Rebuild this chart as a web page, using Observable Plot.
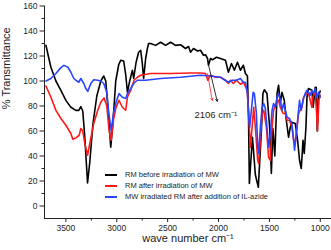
<!DOCTYPE html>
<html><head><meta charset="utf-8">
<script src="https://cdn.jsdelivr.net/npm/d3@7"></script>
<script src="https://cdn.jsdelivr.net/npm/@observablehq/plot@0.6"></script>
<style>
body{margin:0;background:#fff;}
#wrap{position:relative;width:331px;height:250px;font-family:"Liberation Sans",Arial,sans-serif;}
.leg{position:absolute;left:105px;height:10px;font-size:7.5px;color:#222;display:flex;align-items:center;white-space:nowrap;}
.leg i{display:inline-block;width:12px;height:0;border-top:2px solid;margin-right:8px;}
</style></head><body><div id="wrap"></div>
<script>
// wavenumber (cm-1), % transmittance
const black = [[3696,128.6],[3667,118],[3647,111],[3598,100],[3549,92.5],[3500,84.5],[3451,79],[3402,76.5],[3373,76.5],[3353,79.5],[3334,76],[3314,55],[3287,18.4],[3265,35],[3235,65],[3196,88],[3157,100],[3128,104],[3108,100],[3088,80],[3059,47],[3039,65],[3010,100],[2981,113],[2961,116.6],[2932,116],[2912,105],[2895,91],[2873,100],[2846,108.6],[2834,102],[2810,115],[2785,123],[2765,124.6],[2750,115],[2736,102],[2716,118],[2699,126],[2687,130],[2667,130],[2618,128.5],[2569,131],[2520,128.5],[2471,131],[2422,128.5],[2373,129],[2324,126],[2295,127.6],[2275,123],[2246,126],[2206,124],[2177,124.6],[2148,120.6],[2128,121],[2108,118],[2099,112.6],[2079,118],[2059,117],[2020,119],[1981,118],[1932,116.6],[1903,107],[1873,114],[1844,108.6],[1814,115],[1785,108.6],[1756,112.6],[1736,106],[1716,104],[1706,75],[1697,18],[1667,55],[1638,25],[1609,15],[1579,60],[1564,90],[1550,93],[1524,90],[1498,63],[1481,26],[1466,62],[1447,40],[1425,90],[1410,96.6],[1393,82],[1377,91],[1354,84.6],[1334,68.6],[1312,55],[1295,63],[1279,67],[1246,66],[1223,52.6],[1204,36.6],[1187,30],[1170,52.6],[1158,42],[1141,63],[1131,87],[1116,94],[1083,92.6],[1070,79],[1050,95],[1040,95],[1030,60],[1017,88],[1001,92]];
const red = [[3696,96],[3647,87],[3598,76.5],[3549,70],[3500,64.6],[3451,58],[3432,53.4],[3402,54.5],[3369,56.6],[3353,62],[3334,60],[3314,50],[3287,40.6],[3265,50],[3226,66],[3189,76],[3157,83],[3125,86.5],[3098,80],[3075,60],[3055,52.6],[3030,70],[3010,78],[2978,84.6],[2945,79],[2912,76.6],[2895,87],[2880,90],[2863,92.6],[2830,100.6],[2797,103],[2765,104.6],[2667,106],[2471,106],[2275,106.4],[2177,106.4],[2128,106],[2105,100.6],[2079,104.6],[2030,103],[1981,103],[1932,100.6],[1903,98],[1883,100.6],[1854,98],[1824,100.6],[1785,97.4],[1756,99],[1726,94],[1716,90],[1704,74],[1687,47],[1670,63],[1654,79],[1638,63],[1615,36.6],[1606,34],[1589,52.6],[1572,74],[1556,76.6],[1530,63],[1508,39],[1491,36.6],[1474,63],[1459,76.6],[1432,82],[1410,84.6],[1393,79],[1366,74],[1344,74],[1327,68.6],[1302,68.6],[1279,63],[1262,52.6],[1246,50],[1229,63],[1213,74],[1197,76.6],[1180,79],[1164,87],[1138,90],[1116,90],[1099,84.6],[1083,79],[1073,87],[1050,92.6],[1040,79],[1027,60],[1014,84.6],[1001,88.6]];
const blue = [[3696,100],[3647,102],[3598,106],[3549,110.7],[3520,112.5],[3480,111],[3451,107],[3422,102],[3402,100.6],[3373,99],[3353,102],[3324,98],[3304,94],[3285,91.7],[3255,98],[3226,101],[3187,100.6],[3157,100],[3128,98],[3098,91],[3079,75],[3055,60.6],[3030,75],[3010,82],[2978,90],[2945,87],[2912,86],[2895,90],[2863,94],[2830,98.4],[2797,100.6],[2716,100.6],[2569,102],[2373,103],[2177,104.6],[2079,104],[1981,103],[1903,99],[1864,100.6],[1824,100.6],[1785,102],[1756,99],[1736,99],[1716,90],[1704,71],[1694,63],[1677,76.6],[1660,91],[1648,90],[1628,74],[1615,47],[1606,42],[1589,63],[1572,79],[1556,82],[1540,78],[1524,63],[1508,47],[1491,58],[1474,76.6],[1459,82],[1442,79],[1425,87],[1410,90],[1393,84.6],[1377,76.6],[1361,82],[1344,76.6],[1327,71],[1302,70],[1279,66],[1262,52.6],[1253,44.6],[1236,58],[1223,68.6],[1204,84.6],[1189,76.6],[1170,84.6],[1148,90],[1131,92.6],[1116,91],[1099,88.6],[1083,92.6],[1067,90],[1050,94],[1034,87],[1017,91],[1001,87]];

const seriesNames = ["RM before irradiation of MW", "RM after irradiation of MW", "MW irradiated RM after addition of IL-azide"];
const seriesColors = ["#000000", "#ff1a1a", "#2a45ff"];
const xMajorTicks = [3500, 3000, 2500, 2000, 1500, 1000];
const xMinorTicks = [3250, 2750, 2250, 1750, 1250];
const yMajorTicks = [0, 20, 40, 60, 80, 100, 120, 140, 160];
const yMinorTicks = [10, 30, 50, 70, 90, 110, 130, 150];
const xDomain = [3710, 890];
const yDomain = [-10, 160];
const arrows = [
  {x1: 2098, y1: 112.6, x2: 2013, y2: 83.8, color: "#000000"},
  {x1: 2108, y1: 106, x2: 2062, y2: 84.6, color: "#ff1a1a"}
];
const annotation = [{x: 2236, y: 73, text: "2106 cm⁻¹"}];

const toRows = (arr) => arr.map(([wn, t]) => ({wn, t}));
const axisColor = "#222";

const chart = Plot.plot({
  width: 331, height: 250,
  marginLeft: 44, marginRight: 0, marginTop: 5.5, marginBottom: 32,
  style: {fontFamily: "'Liberation Sans', Arial, sans-serif", background: "white", color: axisColor},
  x: {domain: xDomain},
  y: {domain: yDomain},
  marks: [
    Plot.axisX({ticks: xMajorTicks, tickSize: 4, tickPadding: 2, tickFormat: d => String(d), fontSize: 8.5, label: null}),
    Plot.axisX({ticks: xMinorTicks, tickSize: 2.5, tickFormat: () => "", label: null}),
    Plot.axisY({ticks: yMajorTicks, tickSize: 4.5, tickPadding: 2.5, tickFormat: d => String(d), fontSize: 8.5, label: null}),
    Plot.axisY({ticks: yMinorTicks, tickSize: 2.5, tickFormat: () => "", label: null}),
    Plot.ruleX([xDomain[0]], {stroke: axisColor, strokeWidth: 1}),
    Plot.ruleY([yDomain[0]], {stroke: axisColor, strokeWidth: 1}),
    Plot.line(toRows(black), {x: "wn", y: "t", stroke: seriesColors[0], strokeWidth: 1.6}),
    Plot.line(toRows(red), {x: "wn", y: "t", stroke: seriesColors[1], strokeWidth: 1.6}),
    Plot.line(toRows(blue), {x: "wn", y: "t", stroke: seriesColors[2], strokeWidth: 1.6}),
    Plot.arrow(arrows, {x1: "x1", y1: "y1", x2: "x2", y2: "y2", stroke: "color", strokeWidth: 0.8, headLength: 4}),
    Plot.text(annotation, {x: "x", y: "y", text: "text", textAnchor: "start", fontSize: 9.5, fill: "#222"}),
    Plot.text(["wave number cm⁻¹"], {frameAnchor: "bottom", dy: 23, fontSize: 11, fill: "#222"}),
    Plot.text(["% Transmittance"], {frameAnchor: "left", dx: -38, dy: -3, rotate: -90, fontSize: 11, fill: "#222"})
  ]
});

const wrap = document.getElementById("wrap");
wrap.appendChild(chart);
const legendTops = [169.5, 180.5, 191.5];
seriesNames.forEach((name, i) => {
  const d = document.createElement("div");
  d.className = "leg";
  d.style.top = legendTops[i] + "px";
  const sw = document.createElement("i");
  sw.style.borderTopColor = seriesColors[i];
  d.appendChild(sw);
  d.appendChild(document.createTextNode(name));
  wrap.appendChild(d);
});
</script>
</body></html>
